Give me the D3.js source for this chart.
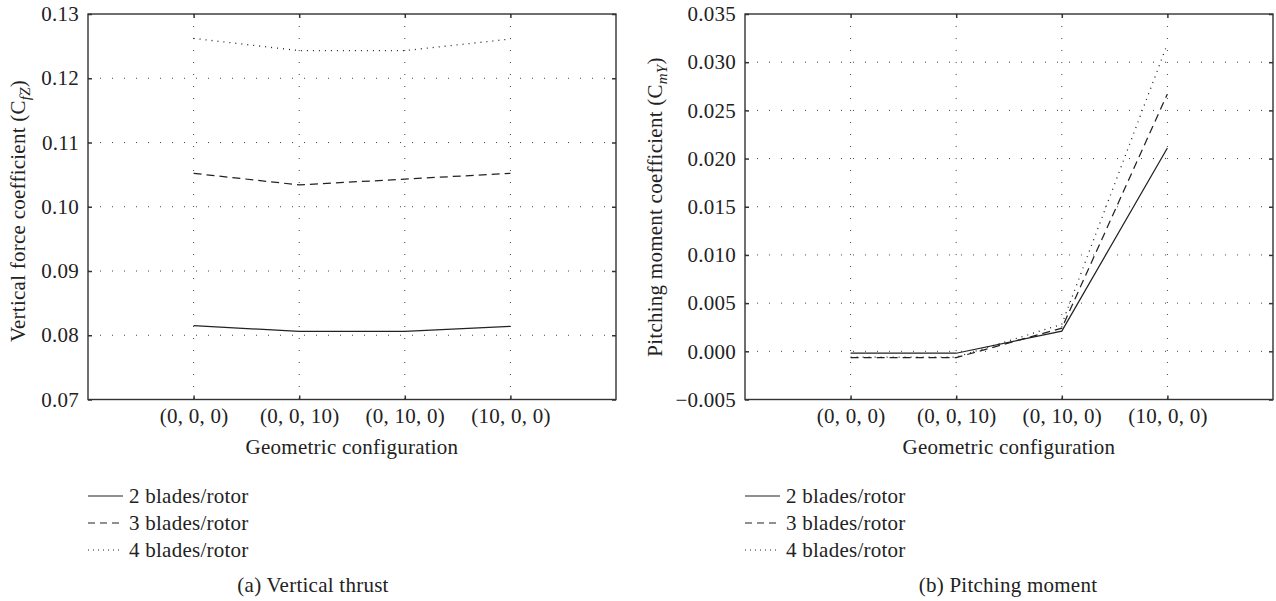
<!DOCTYPE html>
<html>
<head>
<meta charset="utf-8">
<script src="https://cdn.jsdelivr.net/npm/d3@7"></script>
<style>
  body { margin: 0; background: #fff; }
  svg { display: block; font-family: "Liberation Serif", "DejaVu Serif", serif; }
  svg text { letter-spacing: 0.25px; }
  .axis path, .axis line { stroke: #333; }
</style>
</head>
<body>
<svg id="chart" width="1276" height="601"></svg>
<script>
const configs = ["(0, 0, 0)", "(0, 0, 10)", "(0, 10, 0)", "(10, 0, 0)"];
const seriesNames = ["2 blades/rotor", "3 blades/rotor", "4 blades/rotor"];

// vertical force coefficient
const thrust2 = [0.0815, 0.0806, 0.0806, 0.0814];
const thrust3 = [0.1052, 0.1034, 0.1043, 0.1052];
const thrust4 = [0.1262, 0.1243, 0.1243, 0.1261];
const thrustTicks = [0.07, 0.08, 0.09, 0.10, 0.11, 0.12, 0.13];

// pitching moment coefficient
const pitch2 = [-0.0002, -0.0002, 0.0021, 0.0211];
const pitch3 = [-0.00065, -0.00065, 0.0024, 0.0267];
const pitch4 = [-0.0006, -0.0006, 0.0028, 0.0319];
const pitchTicks = [-0.005, 0, 0.005, 0.010, 0.015, 0.020, 0.025, 0.030, 0.035];

const dashes = [null, "8,5", "1,5"];
const legendDashes = [null, "7,5", "1,4"];
const serif = "'Liberation Serif', 'DejaVu Serif', serif";

const svg = d3.select("#chart");
const plotTop = 14, plotBottom = 399.5;

function panel(opt) {
  let width = opt.right - opt.left,
      height = plotBottom - plotTop;
  let g = svg.append("g")
      .attr("transform", "translate(" + opt.left + "," + plotTop + ")");

  let x = d3.scalePoint()
      .domain(configs)
      .range([0, width])
      .padding(1);
  let y = d3.scaleLinear()
      .domain(d3.extent(opt.ticks))
      .range([height, 0]);

  // dotted grid
  g.append("g")
      .selectAll("line.h")
      .data(opt.ticks.slice(1, -1))
    .enter().append("line")
      .attr("x1", 0).attr("x2", width)
      .attr("y1", d => y(d)).attr("y2", d => y(d))
      .style("stroke", "#444").style("stroke-width", 1)
      .style("stroke-dasharray", "1,11");
  g.append("g")
      .selectAll("line.v")
      .data(configs)
    .enter().append("line")
      .attr("x1", d => x(d)).attr("x2", d => x(d))
      .attr("y1", 0).attr("y2", height)
      .style("stroke", "#444").style("stroke-width", 1)
      .style("stroke-dasharray", "1,11");

  // axes with inward ticks on all four sides
  g.append("g")
      .attr("class", "axis")
      .call(d3.axisLeft(y).tickValues(opt.ticks).tickFormat(opt.fmt)
        .tickSizeInner(-4).tickSizeOuter(0).tickPadding(9))
      .call(a => a.select(".domain").remove());
  g.append("g")
      .attr("class", "axis")
      .attr("transform", "translate(" + width + ",0)")
      .call(d3.axisRight(y).tickValues(opt.ticks).tickFormat("")
        .tickSizeInner(-4).tickSizeOuter(0))
      .call(a => a.select(".domain").remove());
  g.append("g")
      .attr("class", "axis")
      .attr("transform", "translate(0," + height + ")")
      .call(d3.axisBottom(x).tickSizeInner(-4).tickSizeOuter(0).tickPadding(9))
      .call(a => a.select(".domain").remove());
  g.append("g")
      .attr("class", "axis")
      .call(d3.axisTop(x).tickFormat("").tickSizeInner(-4).tickSizeOuter(0))
      .call(a => a.select(".domain").remove());
  g.selectAll(".axis")
      .attr("font-family", serif)
      .attr("font-size", 21);
  g.selectAll(".axis .tick text").style("fill", "#222");
  g.selectAll(".axis .tick line").style("stroke-width", 1.5);

  g.append("rect")
      .attr("width", width).attr("height", height)
      .style("fill", "none").style("stroke", "#333").style("stroke-width", 1.4);

  let line = d3.line()
      .x((d, i) => x(configs[i]))
      .y(d => y(d));

  opt.series.forEach(function(s, k) {
    g.append("path")
        .datum(s)
        .attr("d", line)
        .style("fill", "none")
        .style("stroke", "#222")
        .style("stroke-width", k == 2 ? 1.3 : 1.25)
        .style("stroke-dasharray", dashes[k]);
  });

  // y axis title with italic subscript
  let yt = svg.append("text")
      .attr("transform", "translate(" + opt.ylabelX + "," + opt.ylabelY + ") rotate(-90)")
      .attr("text-anchor", "middle")
      .style("font-size", "21px")
      .style("fill", "#222");
  yt.append("tspan").text(opt.ylabel + " (C");
  yt.append("tspan").attr("dy", 5).style("font-size", "15px").style("font-style", "italic").text(opt.sub);
  yt.append("tspan").attr("dy", -5).text(")");

  svg.append("text")
      .attr("x", opt.left + width / 2)
      .attr("y", 454)
      .attr("text-anchor", "middle")
      .style("font-size", "21px")
      .style("fill", "#222")
      .text("Geometric configuration");

  // legend
  let leg = svg.append("g")
      .attr("transform", "translate(" + opt.left + ",496)");
  seriesNames.forEach(function(name, k) {
    leg.append("line")
        .attr("x1", 0).attr("x2", 35)
        .attr("y1", k * 27).attr("y2", k * 27)
        .style("stroke", "#222")
        .style("stroke-width", 1.2)
        .style("stroke-dasharray", legendDashes[k]);
    leg.append("text")
        .attr("x", 41)
        .attr("y", k * 27 + 7)
        .style("font-size", "21px")
        .style("fill", "#222")
        .text(name);
  });

  svg.append("text")
      .attr("x", opt.captionX)
      .attr("y", 592)
      .attr("text-anchor", "middle")
      .style("font-size", "21px")
      .style("fill", "#222")
      .text(opt.caption);
}

panel({
  left: 88, right: 616, ticks: thrustTicks,
  fmt: d3.format(".2f"),
  series: [thrust2, thrust3, thrust4],
  ylabel: "Vertical force coefficient", sub: "fZ", ylabelX: 25, ylabelY: 211,
  caption: "(a)  Vertical thrust", captionX: 313
});

panel({
  left: 745, right: 1273, ticks: pitchTicks,
  fmt: d => d3.format(".3f")(d).replace("-", "\u2212"),
  series: [pitch2, pitch3, pitch4],
  ylabel: "Pitching moment coefficient", sub: "mY", ylabelX: 662, ylabelY: 207,
  caption: "(b)  Pitching moment", captionX: 1008
});
</script>
</body>
</html>
